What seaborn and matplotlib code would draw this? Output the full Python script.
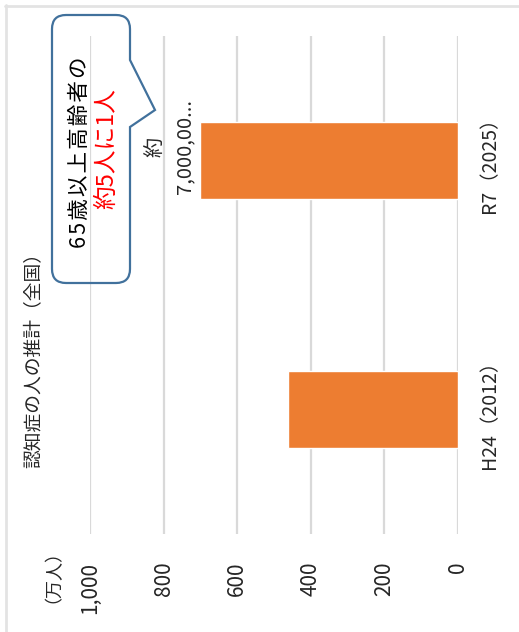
import matplotlib
matplotlib.use("Agg")
import matplotlib.pyplot as plt
import seaborn as sns
import pandas as pd
from matplotlib.path import Path
from matplotlib.patches import PathPatch
from matplotlib.transforms import Affine2D
from matplotlib.lines import Line2D

# ---- data ----
categories = ["R7（2025）", "H24（2012）"]
values = [700, 462]
tick_values = [0, 200, 400, 600, 800, 1000]
tick_labels = ["0", "200", "400", "600", "800", "1,000"]
title = "認知症の人の推計（全国）"
unit_label = "（万人）"
data_label = "約\n7,000,00..."
callout_line1 = ["6", "5", "歳", "以", "上", "高", "齢", "者", "の"]
callout_line2 = "約5人に1人"

sns.set_style("white")
plt.rcParams["font.family"] = ["Noto Sans CJK JP", "DejaVu Sans"]

W, H = 519, 632
fig = plt.figure(figsize=(W / 100, H / 100), dpi=100)
px = Affine2D().scale(1 / W, -1 / H).translate(0, 1) + fig.transFigure

ax = fig.add_axes([90 / W, 1 - 534 / H, 368 / W, 498 / H])
df = pd.DataFrame({"cat": categories, "val": values})
sns.barplot(data=df, x="val", y="cat", orient="h", color="#ED7D31",
            saturation=1, width=0.31, ax=ax, zorder=3)
ax.set_xlim(1000, 0)
ax.set_ylim(1.5, -0.5)
ax.set_xticks(tick_values)
ax.set_xticklabels(tick_labels, rotation=90, fontsize=15)
ax.xaxis.grid(True, color="#d9d9d9", linewidth=1.6)
ax.set_axisbelow(True)
for s in ax.spines.values():
    s.set_visible(False)
ax.tick_params(axis="x", length=0, pad=20)
ax.yaxis.tick_right()
ax.tick_params(axis="y", length=0, pad=15)
for lab in ax.get_yticklabels():
    lab.set_rotation(90)
    lab.set_va("center")
    lab.set_fontsize(14)
ax.set_xlabel("")
ax.set_ylabel("")

# data label
ax.annotate(data_label, xy=(values[0], 0), xytext=(-4, 10),
            textcoords="offset points", ha="right", va="center",
            rotation=90, fontsize=14.5, multialignment="center", linespacing=1.45)

# title and unit
fig.text(33 / W, 1 - 356 / H, title, rotation=90, ha="center", va="center", fontsize=13.5)
fig.text(44 / W, 1 - 567 / H, unit_label, rotation=90, ha="center", va="center", fontsize=13)

# callout shape
L, R, T, B, r = 52, 130, 15, 283, 14
verts = [
    (L + r, T), (R - r, T), (R, T), (R, T + r),
    (R, 60), (155, 110), (R, 127),
    (R, B - r), (R, B), (R - r, B),
    (L + r, B), (L, B), (L, B - r),
    (L, T + r), (L, T), (L + r, T),
    (L + r, T),
]
codes = [Path.MOVETO, Path.LINETO, Path.CURVE3, Path.CURVE3,
         Path.LINETO, Path.LINETO, Path.LINETO,
         Path.LINETO, Path.CURVE3, Path.CURVE3,
         Path.LINETO, Path.CURVE3, Path.CURVE3,
         Path.LINETO, Path.CURVE3, Path.CURVE3,
         Path.CLOSEPOLY]
patch = PathPatch(Path(verts, codes), facecolor="none", edgecolor="#41719C",
                  linewidth=1.6, transform=px, zorder=5)
fig.add_artist(patch)
spaced1 = "\u200a".join(callout_line1)
fig.text(80 / W, 1 - 152 / H, spaced1, rotation=90, ha="center", va="center",
         fontsize=15.5, color="black")
fig.text(107 / W, 1 - 149 / H, callout_line2, rotation=90, ha="center", va="center",
         fontsize=17, color="#FF0000")

# outer border (top and left visible)
fig.add_artist(Line2D([5 / W, 1], [1 - 6 / H, 1 - 6 / H], color="#e3e3e3", linewidth=2, transform=fig.transFigure))
fig.add_artist(Line2D([6 / W, 6 / W], [0, 1 - 5 / H], color="#e3e3e3", linewidth=2, transform=fig.transFigure))

fig.savefig("out.png", dpi=100)
